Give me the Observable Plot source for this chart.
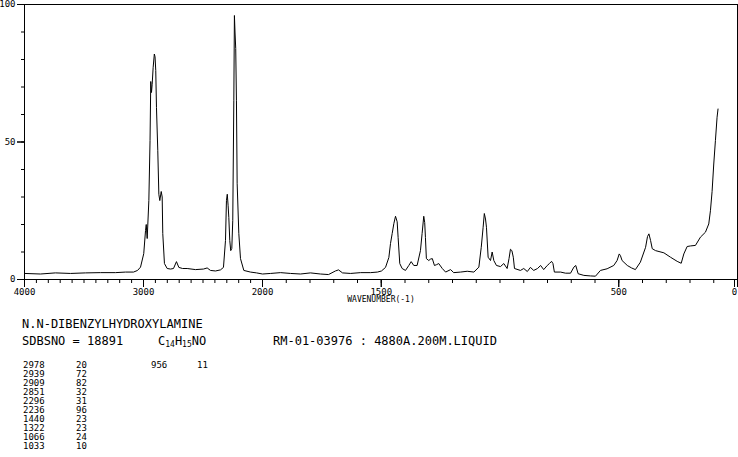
<!DOCTYPE html>
<html>
<head>
<meta charset="utf-8">
<script src="https://cdn.jsdelivr.net/npm/d3@7"></script>
<script src="https://cdn.jsdelivr.net/npm/@observablehq/plot@0.6"></script>
<style>
  html, body { margin: 0; padding: 0; background: #fff; }
  #wrap { position: relative; width: 738px; height: 457px; overflow: hidden; font-family: "DejaVu Sans Mono", monospace; color: #000; }
  #chart { position: absolute; left: 0; top: 0; width: 738px; }
  .t { position: absolute; white-space: pre; line-height: 1; }
  .big { font-size: 12px; }
  .small { font-size: 9px; }
  sub { font-size: 8px; vertical-align: -2px; line-height: 0; }
</style>
</head>
<body>
<div id="wrap">
  <div id="chart"></div>
</div>
<script>
// ---- data (Raman spectrum) ----
const wavenumber = [4000,3866,3740,3613,3487,3361,3235,3151,3084,3050,
  3025,2998,2983,2977,2969,2955,2945,2939,2933,2927,
  2919,2909,2903,2897,2891,2880,2871,2863,2851,2843,
  2838,2824,2801,2773,2748,2723,2703,2672,2633,2563,
  2496,2465,2437,2395,2353,2328,2311,2303,2296,2289,
  2283,2275,2267,2258,2250,2241,2236,2231,2225,2219,
  2213,2199,2185,2157,2101,2050,2000,1966,1924,1882,
  1840,1798,1756,1722,1693,1680,1663,1629,1587,1545,
  1516,1499,1482,1468,1461,1454,1447,1440,1433,1429,
  1422,1412,1398,1384,1374,1363,1349,1335,1328,1321,
  1317,1314,1310,1300,1293,1285,1276,1267,1258,1243,
  1229,1208,1195,1166,1138,1110,1089,1079,1071,1066,
  1061,1057,1050,1040,1033,1026,1015,998,984,970,
  962,956,950,944,939,914,900,885,872,858,
  842,829,816,801,792,783,777,771,745,724,
  703,689,681,671,647,619,598,577,549,521,
  507,498,493,486,464,446,430,409,387,379,
  373,366,359,345,310,282,254,237,226,212,
  198,177,156,135,121,114,107,100,93,86,
  82];
const intensity = [2.2,2.0,2.4,2.2,2.4,2.5,2.5,2.7,2.7,3.3,
  4.5,9.4,17.8,20,14.9,28.7,50.5,72,68,71,
  77,82,81,76,62.5,47,31,28.7,32,30,
  16.7,5.8,4.0,3.8,4.0,6.5,4.4,4.0,4.0,3.6,
  3.8,4.2,3.3,3.1,3.5,4.4,14.2,28.7,31,27,
  22.5,14.2,10.5,11.3,21.4,65,96,90,84,65,
  35,16.7,7.6,3.3,2.7,2.4,2.0,2.2,2.5,2.2,
  2.0,2.4,2.0,1.8,3.1,3.5,2.4,2.2,2.5,2.5,
  2.7,3.1,4.4,8.0,13.1,16.7,20.3,23,21,15.3,
  5.8,4.0,3.3,5.1,6.5,5.1,5.1,10.5,16.7,23,
  20.7,15.3,7.6,6.9,7.4,7.6,5.1,5.4,5.8,4.0,
  2.7,3.6,2.5,2.7,3.0,2.7,4.5,11.7,19,24,
  22,19,8.1,6.9,10,6.9,5.1,4.7,5.8,4.0,
  7.6,11,10.5,8.1,4.0,3.3,4.0,2.9,4.4,3.3,
  4.0,5.1,3.6,5.1,5.8,6.6,5.8,2.7,2.7,2.3,
  2.3,4.5,5.1,2.1,1.5,1.3,1.2,3.3,3.9,5.1,
  6.9,9.3,8.7,6.9,5.1,4.2,3.6,6.3,11.7,15.6,
  16.6,14.2,11.2,10.5,9.7,8.1,6.6,5.9,9.3,12,
  12.2,12.4,15.4,17.2,20.2,25,32,42,50.5,59,
  62];

const xMajorTicks = [4000, 3000, 2000, 1500, 500, 0];
const xMinorTicks = d3.range(0, 4001, 100);
const yMajorTicks = [0, 50, 100];
const yMinorTicks = d3.range(0, 101, 10);
const xLabel = "WAVENUMBER(-1)";

const compoundName = "N.N-DIBENZYLHYDROXYLAMINE";
const sdbsNo = "SDBSNO = 18891";
const measurement = "RM-01-03976 : 4880A.200M.LIQUID";
const peakWavenumbers = [2978, 2939, 2909, 2851, 2296, 2236, 1440, 1322, 1066, 1033, 956];
const peakIntensities = [20, 72, 82, 32, 31, 96, 23, 23, 24, 10, 11];

const data = wavenumber.map((w, i) => ({w, v: intensity[i]}));

const W = 738, H = 305;
const fLeft = 24, fRight = 737, fTop = 4, fBottom = 279;
// tick lengths expressed in scale units (px / px-per-unit)
const yPerPx = 100 / (fBottom - fTop);
const xPerPx = 1000 / 119;

const chart = Plot.plot({
  width: W,
  height: H,
  marginLeft: fLeft,
  marginRight: W - fRight,
  marginTop: fTop,
  marginBottom: H - fBottom,
  style: {fontFamily: "DejaVu Sans Mono", fontSize: "9px", background: "#fff", color: "#000"},
  x: {type: "linear", domain: [4000, 2000, 0], range: [fLeft, 262, fRight], label: null},
  y: {type: "linear", domain: [0, 100], range: [fBottom, fTop], label: null},
  marks: [
    Plot.frame({stroke: "#000", strokeWidth: 1}),
    // tick marks
    Plot.ruleX(xMinorTicks, {x: d => d, y1: 0, y2: -4 * yPerPx, stroke: "#000", strokeWidth: 1}),
    Plot.ruleX(xMajorTicks, {x: d => d, y1: 0, y2: -8 * yPerPx, stroke: "#000", strokeWidth: 1}),
    Plot.ruleY(yMinorTicks, {y: d => d, x1: 4000, x2: 4000 + 3 * xPerPx, stroke: "#000", strokeWidth: 1}),
    Plot.ruleY(yMajorTicks, {y: d => d, x1: 4000, x2: 4000 + 7 * xPerPx, stroke: "#000", strokeWidth: 1}),
    // tick labels
    Plot.axisX({ticks: xMajorTicks.filter(d => d !== 0), tickSize: 8, tickPadding: 1, tickFormat: d => String(d), label: null, fontSize: 9, stroke: "#000", fill: "#000"}),
    Plot.axisX({ticks: [0], tickSize: 8, tickPadding: 1, dx: -3, tickFormat: d => String(d), label: null, fontSize: 9, stroke: "#000", fill: "#000"}),
    Plot.axisY({ticks: yMajorTicks, tickSize: 7, tickPadding: 2, tickFormat: d => String(d), label: null, fontSize: 9, stroke: "#000", fill: "#000"}),
    Plot.text([xLabel], {frameAnchor: "bottom", dy: 22, fontSize: 8, fill: "#000"}),
    Plot.line(data, {x: "w", y: "v", stroke: "#000", strokeWidth: 1})
  ]
});
document.getElementById("chart").appendChild(chart);

// ---- text block below the chart ----
const wrap = document.getElementById("wrap");
function addText(html, x, y, cls) {
  const d = document.createElement("div");
  d.className = "t " + cls;
  d.style.left = x + "px";
  d.style.top = y + "px";
  d.innerHTML = html;
  wrap.appendChild(d);
}
addText(compoundName, 22, 318, "big");
addText(sdbsNo, 22, 335, "big");
addText("C<sub>14</sub>H<sub>15</sub>NO", 158, 335, "big");
addText(measurement, 273, 335, "big");

peakWavenumbers.forEach((w, i) => {
  const col = i < 10 ? 0 : 1;
  const row = i < 10 ? i : i - 10;
  const yy = 361 + row * 9;
  const xw = col === 0 ? 23 : 151;
  const xi = col === 0 ? 76 : 197;
  addText(String(w), xw, yy, "small");
  addText(String(peakIntensities[i]), xi, yy, "small");
});
</script>
</body>
</html>
